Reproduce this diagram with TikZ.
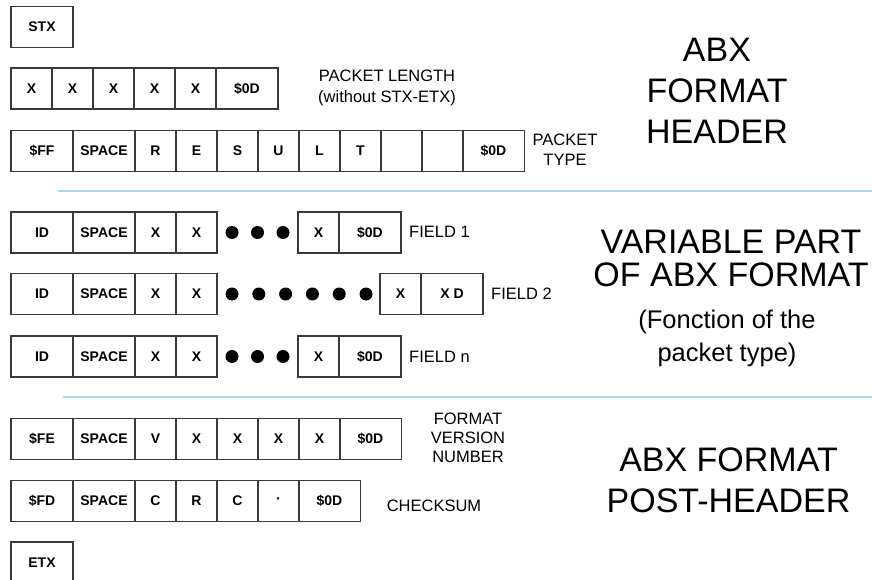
\documentclass[tikz,border=0pt]{standalone}
\usepackage{fontspec}
\setmainfont{Liberation Sans}
\definecolor{boxgray}{HTML}{3A3A3A}
\definecolor{sepblue}{HTML}{A9D9F2}

\begin{document}
\begin{tikzpicture}[x=1pt,y=-1pt,
	fieldbox/.style={draw=boxgray,line width=1.3pt,minimum width=41pt,minimum height=41pt,inner sep=0pt,font=\fontsize{14}{16}\selectfont\bfseries},
	widebox/.style={fieldbox,minimum width=62pt},
	bullet/.style={circle,fill=black,minimum size=13pt,inner sep=0pt},
	note/.style={inner sep=0pt,align=center,font=\fontsize{16.5}{20}\selectfont},
	heading/.style={inner sep=0pt,align=center,font=\fontsize{34}{41}\selectfont},
	divider/.style={sepblue,line width=2pt}]
	
	\useasboundingbox (0,0) rectangle (872,580);
	\clip (0,0) rectangle (872,580);
	
	\node[widebox] (stx) at (42,27) {STX};
	
	\node[fieldbox] (l1) at (31.5,88.5) {X};
	\node[fieldbox] (l2) at (72.5,88.5) {X};
	\node[fieldbox] (l3) at (113.5,88.5) {X};
	\node[fieldbox] (l4) at (154.5,88.5) {X};
	\node[fieldbox] (l5) at (195.5,88.5) {X};
	\node[widebox] (l6) at (247,88.5) {\$0D};
	
	\node[widebox] (t1) at (42,151) {\$FF};
	\node[widebox] (t2) at (104,151) {SPACE};
	\node[fieldbox] (t3) at (155.5,151) {R};
	\node[fieldbox] (t4) at (196.5,151) {E};
	\node[fieldbox] (t5) at (237.5,151) {S};
	\node[fieldbox] (t6) at (278.5,151) {U};
	\node[fieldbox] (t7) at (319.5,151) {L};
	\node[fieldbox] (t8) at (360.5,151) {T};
	\node[fieldbox] (t9) at (401.5,151) {};
	\node[fieldbox] (t10) at (442.5,151) {};
	\node[widebox] (t11) at (493.5,151) {\$0D};
	
	\node[widebox] (a1) at (42,232.5) {ID};
	\node[widebox] (a2) at (104,232.5) {SPACE};
	\node[fieldbox] (a3) at (155.5,232.5) {X};
	\node[fieldbox] (a4) at (196.5,232.5) {X};
	\node[bullet] (ad1) at (232,232.5) {};
	\node[bullet] (ad2) at (257.5,232.5) {};
	\node[bullet] (ad3) at (283,232.5) {};
	\node[fieldbox] (a5) at (318.5,232.5) {X};
	\node[widebox] (a6) at (370,232.5) {\$0D};
	
	\node[widebox] (b1) at (42,294) {ID};
	\node[widebox] (b2) at (104,294) {SPACE};
	\node[fieldbox] (b3) at (155.5,294) {X};
	\node[fieldbox] (b4) at (196.5,294) {X};
	\node[bullet] (bd1) at (232,294) {};
	\node[bullet] (bd2) at (258.8,294) {};
	\node[bullet] (bd3) at (285.6,294) {};
	\node[bullet] (bd4) at (312.4,294) {};
	\node[bullet] (bd5) at (339.2,294) {};
	\node[bullet] (bd6) at (366,294) {};
	\node[fieldbox] (b5) at (400.5,294) {X};
	\node[widebox] (b6) at (452,294) {X D};
	
	\node[widebox] (c1) at (42,356.5) {ID};
	\node[widebox] (c2) at (104,356.5) {SPACE};
	\node[fieldbox] (c3) at (155.5,356.5) {X};
	\node[fieldbox] (c4) at (196.5,356.5) {X};
	\node[bullet] (cd1) at (232,356.5) {};
	\node[bullet] (cd2) at (257.5,356.5) {};
	\node[bullet] (cd3) at (283,356.5) {};
	\node[fieldbox] (c5) at (318.5,356.5) {X};
	\node[widebox] (c6) at (370,356.5) {\$0D};
	
	\node[widebox] (v1) at (42,439) {\$FE};
	\node[widebox] (v2) at (104,439) {SPACE};
	\node[fieldbox] (v3) at (155.5,439) {V};
	\node[fieldbox] (v4) at (196.5,439) {X};
	\node[fieldbox] (v5) at (237.5,439) {X};
	\node[fieldbox] (v6) at (278.5,439) {X};
	\node[fieldbox] (v7) at (319.5,439) {X};
	\node[widebox] (v8) at (370.5,439) {\$0D};
	
	\node[widebox] (k1) at (42,501) {\$FD};
	\node[widebox] (k2) at (104,501) {SPACE};
	\node[fieldbox] (k3) at (155.5,501) {C};
	\node[fieldbox] (k4) at (196.5,501) {R};
	\node[fieldbox] (k5) at (237.5,501) {C};
	\node[fieldbox] (k6) at (278.5,501) {·};
	\node[widebox] (k7) at (329.5,501) {\$0D};
	
	\node[widebox,minimum height=42pt] (etx) at (42,563) {ETX};
	
	\node[note,font=\fontsize{16.5}{21}\selectfont] (plen) at (387,88) {PACKET LENGTH\\(without STX-ETX)};
	\node[note] (ptype) at (565,150) {PACKET\\TYPE};
	\node[note,anchor=west] (f1) at (409,232) {FIELD 1};
	\node[note,anchor=west] (f2) at (491,294) {FIELD 2};
	\node[note,anchor=west] (fn) at (409,356.5) {FIELD n};
	\node[note,font=\fontsize{16.5}{19}\selectfont] (fvn) at (468,437.5) {FORMAT\\VERSION\\NUMBER};
	\node[note] (chk) at (434,505.5) {CHECKSUM};
	
	\node[heading] (hdr) at (717,90.5) {ABX\\FORMAT\\HEADER};
	\node[heading,font=\fontsize{34}{33.5}\selectfont] (var) at (731,258.5) {VARIABLE PART\\OF ABX FORMAT};
	\node[inner sep=0pt,align=center,font=\fontsize{25.5}{33}\selectfont] (fct) at (727,338) {(Fonction of the\\packet type)};
	\node[heading] (post) at (728.5,480) {ABX FORMAT\\POST-HEADER};
	
	\draw[divider] (58,191) -- (872,191);
	\draw[divider] (63,397) -- (872,397);
	
\end{tikzpicture}
\end{document}
